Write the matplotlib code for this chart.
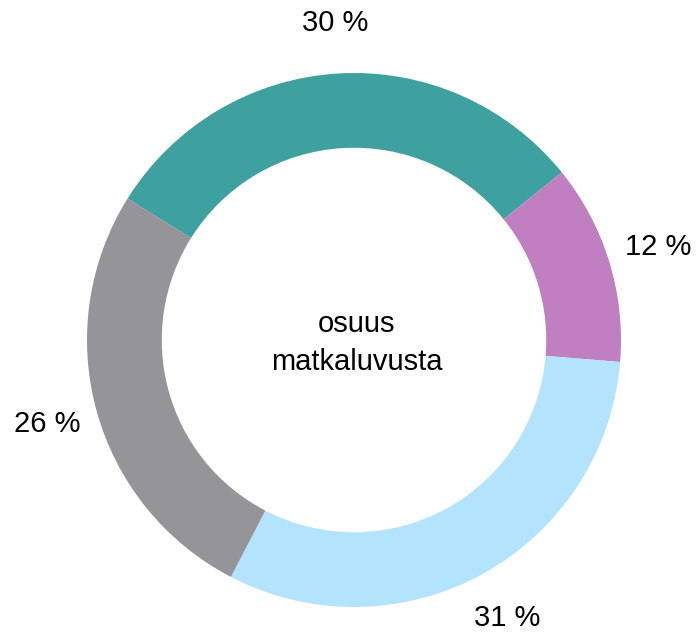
import matplotlib.pyplot as plt

# osuudet (%)
osuudet = [30, 12, 31, 26]
nimet = ["30 %", "12 %", "31 %", "26 %"]
varit = ["#3fa0a0", "#c07fc0", "#b3e3fd", "#959499"]

plt.rcParams['font.family'] = ['Liberation Sans', 'DejaVu Sans']

fig = plt.figure(figsize=(6.97, 6.37), dpi=100)
ax = fig.add_axes([0, 0, 1, 1])

wedges, texts = ax.pie(
    osuudet, labels=nimet, colors=varit, startangle=148, counterclock=False,
    radius=1.0, labeldistance=1.19,
    wedgeprops=dict(width=0.28, edgecolor='none'),
    textprops=dict(fontsize=21, color='black'),
)
for t in texts:
    t.set_horizontalalignment('center')
    t.set_verticalalignment('center')

ax.text(0.01, -0.01, "osuus\nmatkaluvusta", ha='center', va='center', fontsize=21,
        linespacing=1.45)

# 1 yksikkö = 267 px, keskipiste (354, 340)
r = 267.0
ax.set_xlim(-354 / r, (697 - 354) / r)
ax.set_ylim(-(637 - 340) / r, 340 / r)
ax.set_aspect('auto')
ax.axis('off')

fig.savefig('out.png', dpi=100)
